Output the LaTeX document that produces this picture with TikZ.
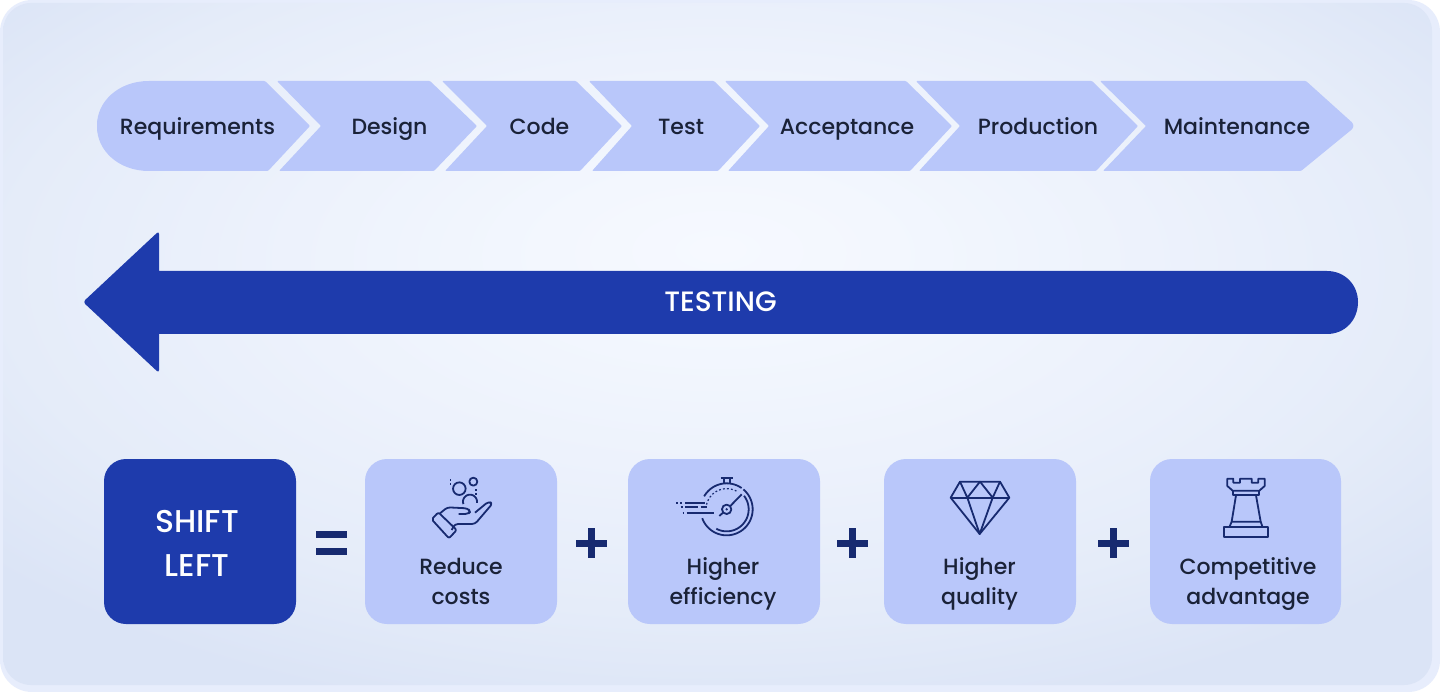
\documentclass[tikz,border=0pt]{standalone}
\usepackage{fontspec}
\setmainfont{Poppins Medium}
\definecolor{chev}{HTML}{B9C7FA}
\definecolor{royal}{HTML}{1E3BAC}
\definecolor{navy}{HTML}{172A70}
\definecolor{ink}{HTML}{1A2238}
\definecolor{bgc}{HTML}{F6F9FF}
\definecolor{bgn}{HTML}{F3F7FE}
\definecolor{bgm}{HTML}{EDF2FC}
\definecolor{bgo}{HTML}{E5ECF9}
\definecolor{bge}{HTML}{DBE4F6}
\definecolor{ring}{HTML}{E7EDFC}
\pgfdeclareradialshading{panelshade}{\pgfpoint{0bp}{7bp}}{color(0bp)=(bgc);color(6bp)=(bgn);color(15bp)=(bgm);color(25bp)=(bgo);color(33bp)=(bge);color(100bp)=(bge)}
\tikzset{
  chevshape/.style={fill=chev,rounded corners=1pt},
  lab/.style={font=\fontsize{22}{26}\selectfont,text=ink,inner sep=0pt,anchor=base},
  cardlab/.style={font=\fontsize{22}{30}\selectfont,text=ink,align=center,inner sep=0pt,anchor=base},
  card/.style={fill=chev,rounded corners=22pt},
  icon/.style={draw=navy,line width=1.8pt,line join=round},
  symb/.style={fill=navy},
}
\begin{document}
\begin{tikzpicture}[x=1pt,y=-1pt]
\useasboundingbox (0,0) rectangle (1440,692);
% panel
\fill[white] (0,0) rectangle (1440,692);
\fill[ring,rounded corners=32pt] (0,0) rectangle (1440,692);
\shade[shading=panelshade,rounded corners=28pt] (3,3) rectangle (1432,685);
% chevrons
\fill[chevshape] (310,126) -- (265,81) -- (150,81)
  .. controls (118,81) and (97,102) .. (97,126)
  .. controls (97,150) and (118,171) .. (150,171) -- (268,171) -- cycle;
\fill[chevshape] (277,81) -- (430,81) -- (477,126) -- (434,171) -- (279,171) -- (321,126) -- cycle;
\fill[chevshape] (442,81) -- (576,81) -- (622,126) -- (580,171) -- (445,171) -- (487,126) -- cycle;
\fill[chevshape] (589,81) -- (714,81) -- (760,126) -- (718,171) -- (592,171) -- (632,126) -- cycle;
\fill[chevshape] (725,81) -- (906,81) -- (952,126) -- (910,171) -- (728,171) -- (769,126) -- cycle;
\fill[chevshape] (916,81) -- (1092,81) -- (1138,126) -- (1096,171) -- (919,171) -- (960,126) -- cycle;
\fill[chevshape] (1100,81) -- (1306,81) [rounded corners=6pt] -- (1356,126) [rounded corners=1pt] -- (1301,171) -- (1103,171) -- (1146,126) -- cycle;
\node[lab] (req) at (197.5,135) {Requirements};
\node[lab] (des) at (389.5,135) {Design};
\node[lab] (cod) at (539.5,135) {Code};
\node[lab] (tes) at (681,135) {Test};
\node[lab] (acc) at (847,135) {Acceptance};
\node[lab] (pro) at (1038,135) {Production};
\node[lab] (mai) at (1237,135) {Maintenance};
% testing arrow
\fill[royal,rounded corners=3pt] (83,302) -- (159,231) [sharp corners] -- (159,271) -- (1327,271)
  .. controls (1345,271) and (1358,285) .. (1358,302)
  .. controls (1358,320) and (1345,334) .. (1327,334) -- (159,334) [rounded corners=3pt] -- (159,373) -- cycle;
\node[font=\fontsize{28}{30}\selectfont,text=white,inner sep=0pt,anchor=base] (testing) at (720.5,312) {TESTING};
% shift left
\fill[royal,rounded corners=22pt] (104,459) rectangle (296,624);
\node[font=\fontsize{31.5}{44}\selectfont,text=white,align=center,inner sep=0pt] (shift) at (197,543) {SHIFT\\LEFT};
% equals and plus
\fill[symb] (316,531) rectangle (347,537.5);
\fill[symb] (316,548) rectangle (347,554.5);
\foreach \px in {591,852,1113}{
  \fill[symb] (\px-15.5,539.5) rectangle (\px+15.5,546.5);
  \fill[symb] (\px-3.5,528) rectangle (\px+3.5,558);
}
% cards
\fill[card] (365,459) rectangle (557,624);
\fill[card] (628,459) rectangle (820,624);
\fill[card] (884,459) rectangle (1076,624);
\fill[card] (1150,459) rectangle (1341,624);
\node[cardlab] (c1) at (461,604.5) {Reduce\\costs};
\node[cardlab] (c2) at (723,604.5) {Higher\\efficiency};
\node[cardlab] (c3) at (979.5,604.5) {Higher\\quality};
\node[cardlab] (c4) at (1248,604.5) {Competitive\\advantage};
% hand icon
\begin{scope}[shift={(360,450)},x=0.33333pt,y=-0.33333pt]
\draw[icon] (298,116) circle[radius=6.3pt];
\draw[icon] (340,95) circle[radius=4pt];
\draw[icon] plot[smooth,domain=-10:200,samples=30] ({330+21*cos(\x)},{155-21*sin(\x)});
\draw[icon,line width=1.4pt] (272,88) -- (272,92) (272,100) -- (272,104);
\draw[icon,line width=1.4pt] (348,118) -- (348,122) (348,130) -- (348,135);
\draw[icon,rounded corners=2pt] (215,208) -- (235,187) -- (290,240) -- (267,265) -- cycle;
\draw[icon,rounded corners=3pt] (240,190) -- (262,172) -- (322,175) -- (332,184) -- (324,192) -- (296,192);
\draw[icon,rounded corners=3pt] (345,188) -- (385,155) -- (398,160) -- (345,222) -- (285,222) -- (275,240);
\end{scope}
% stopwatch icon
\begin{scope}[shift={(360,450)},x=0.33333pt,y=-0.33333pt]
\draw[icon] (1082,85) -- (1120,85) (1092,85) -- (1092,102) (1110,85) -- (1110,102);
\draw[icon] plot[smooth,domain=55:150,samples=25] ({1100+78*cos(\x)},{178-78*sin(\x)});
\draw[icon] plot[smooth,domain=-160:50,samples=60] ({1100+78*cos(\x)},{178-78*sin(\x)});
\draw[icon] plot[smooth,domain=-118:38,samples=40] ({1100+66*cos(\x)},{178-66*sin(\x)});
\draw[icon,line width=1.2pt,dash pattern=on 1.8pt off 2.2pt] plot[smooth,domain=62:168,samples=30] ({1100+62*cos(\x)},{178-62*sin(\x)});
\draw[icon] (1100,178) circle[radius=4.7pt];
\draw[icon] (1078,198) -- (1090,187) (1110,169) -- (1145,133);
\fill[navy] (1100,178) circle[radius=1.3pt];
\draw[icon] (948,158) -- (954,158) (960,158) -- (966,158) (975,158) -- (1035,158);
\draw[icon] (962,172) -- (968,172) (975,172) -- (1015,172) (1022,172) -- (1040,172);
\draw[icon] (968,188) -- (972,188) (980,188) -- (1062,188);
\end{scope}
% diamond icon
\begin{scope}[shift={(830,450)},x=0.33333pt,y=-0.33333pt]
\draw[icon] (390,95) -- (510,95) -- (538,143) -- (449,252) -- (362,143) -- cycle;
\draw[icon] (362,143) -- (538,143);
\draw[icon] (390,95) -- (412,143) -- (450,95) -- (488,143) -- (510,95);
\draw[icon] (412,143) -- (449,252) -- (488,143);
\end{scope}
% rook icon
\begin{scope}[shift={(830,450)},x=0.33333pt,y=-0.33333pt]
\draw[icon] (1192,86) -- (1210,86) -- (1210,98) -- (1230,98) -- (1230,86) -- (1265,86) -- (1265,98) -- (1285,98) -- (1285,86) -- (1304,86) -- (1304,108) -- (1288,122) -- (1208,122) -- (1192,108) -- cycle;
\draw[icon] (1208,122) -- (1208,136) -- (1288,136) -- (1288,122);
\draw[icon] (1218,136) -- (1205,215) (1278,136) -- (1292,215);
\draw[icon] (1198,232) -- (1205,215) -- (1292,215) -- (1298,232);
\draw[icon] (1183,232) rectangle (1313,262);
\end{scope}
\end{tikzpicture}
\end{document}
